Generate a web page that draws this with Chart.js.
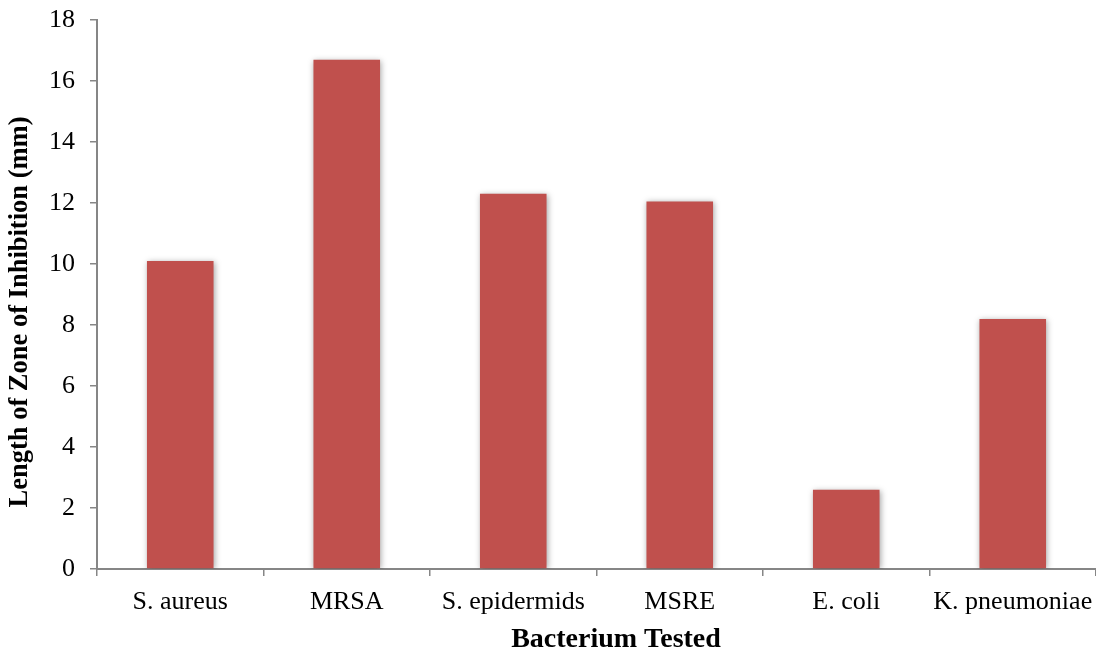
<!DOCTYPE html>
<html>
<head>
<meta charset="utf-8">
<script src="https://cdn.jsdelivr.net/npm/chart.js@4/dist/chart.umd.min.js"></script>
<style>
  html, body { margin: 0; padding: 0; background: #ffffff; }
  #wrap { width: 1096px; height: 652px; position: relative; }
</style>
</head>
<body>
<div id="wrap"><canvas id="chart"></canvas></div>
<script>
// Zone of inhibition per bacterium (mm)
const categories = ["S. aureus", "MRSA", "S. epidermids", "MSRE", "E. coli", "K. pneumoniae"];
const zoneLength = [10.1, 16.7, 12.3, 12.05, 2.6, 8.2];
const yTicks = [0, 2, 4, 6, 8, 10, 12, 14, 16, 18];
const xTitle = "Bacterium Tested";
const yTitle = "Length of Zone of Inhibition (mm)";

const axisColor = "#868686";
const serif = "'Liberation Serif', 'Times New Roman', serif";

// Soft drop shadow behind the bars
const barShadow = {
  id: "barShadow",
  beforeDatasetsDraw(chart) {
    const ctx = chart.ctx;
    ctx.save();
    ctx.shadowColor = "rgba(0,0,0,0.35)";
    ctx.shadowBlur = 6;
    ctx.shadowOffsetX = 1;
    ctx.shadowOffsetY = 1;
  },
  afterDatasetsDraw(chart) {
    chart.ctx.restore();
  }
};

// Axis titles, placed by hand
const axisTitles = {
  id: "axisTitles",
  afterDraw(chart) {
    const ctx = chart.ctx;
    ctx.save();
    ctx.fillStyle = "#000";
    ctx.textAlign = "center";
    ctx.textBaseline = "middle";
    ctx.font = "bold 28px " + serif;
    ctx.fillText(xTitle, 616, 640);
    ctx.translate(20, 312);
    ctx.rotate(-Math.PI / 2);
    ctx.font = "bold 26.5px " + serif;
    ctx.fillText(yTitle, 0, 0);
    ctx.restore();
  }
};

new Chart(document.getElementById("chart"), {
  type: "bar",
  data: {
    labels: categories,
    datasets: [{
      data: zoneLength,
      backgroundColor: "#C0504D",
      borderWidth: 0,
      categoryPercentage: 1.0,
      barPercentage: 0.4
    }]
  },
  plugins: [barShadow, axisTitles],
  options: {
    responsive: true,
    maintainAspectRatio: false,
    animation: false,
    layout: { padding: { top: 20, right: 0, left: 0, bottom: 0 } },
    plugins: { legend: { display: false }, tooltip: { enabled: false } },
    scales: {
      x: {
        offset: true,
        grid: {
          offset: true,
          drawOnChartArea: false,
          drawTicks: true,
          tickLength: 7,
          color: axisColor,
          lineWidth: 1.5
        },
        border: { color: axisColor, width: 2 },
        ticks: {
          color: "#000",
          font: { family: serif, size: 26 },
          padding: 11,
          maxRotation: 0
        },
        afterFit(scale) {
          scale.height = 83;
          scale.paddingLeft = 0;
          scale.paddingRight = 0;
        }
      },
      y: {
        min: 0,
        max: 18,
        afterBuildTicks(scale) { scale.ticks = yTicks.map(v => ({ value: v })); },
        grid: {
          drawOnChartArea: false,
          drawTicks: true,
          tickLength: 7,
          color: axisColor,
          lineWidth: 1.5
        },
        border: { color: axisColor, width: 2 },
        ticks: {
          color: "#000",
          font: { family: serif, size: 26 },
          padding: 15
        },
        afterFit(scale) {
          scale.width = 97;
          scale.paddingTop = 0;
          scale.paddingBottom = 0;
        }
      }
    }
  }
});
</script>
</body>
</html>
